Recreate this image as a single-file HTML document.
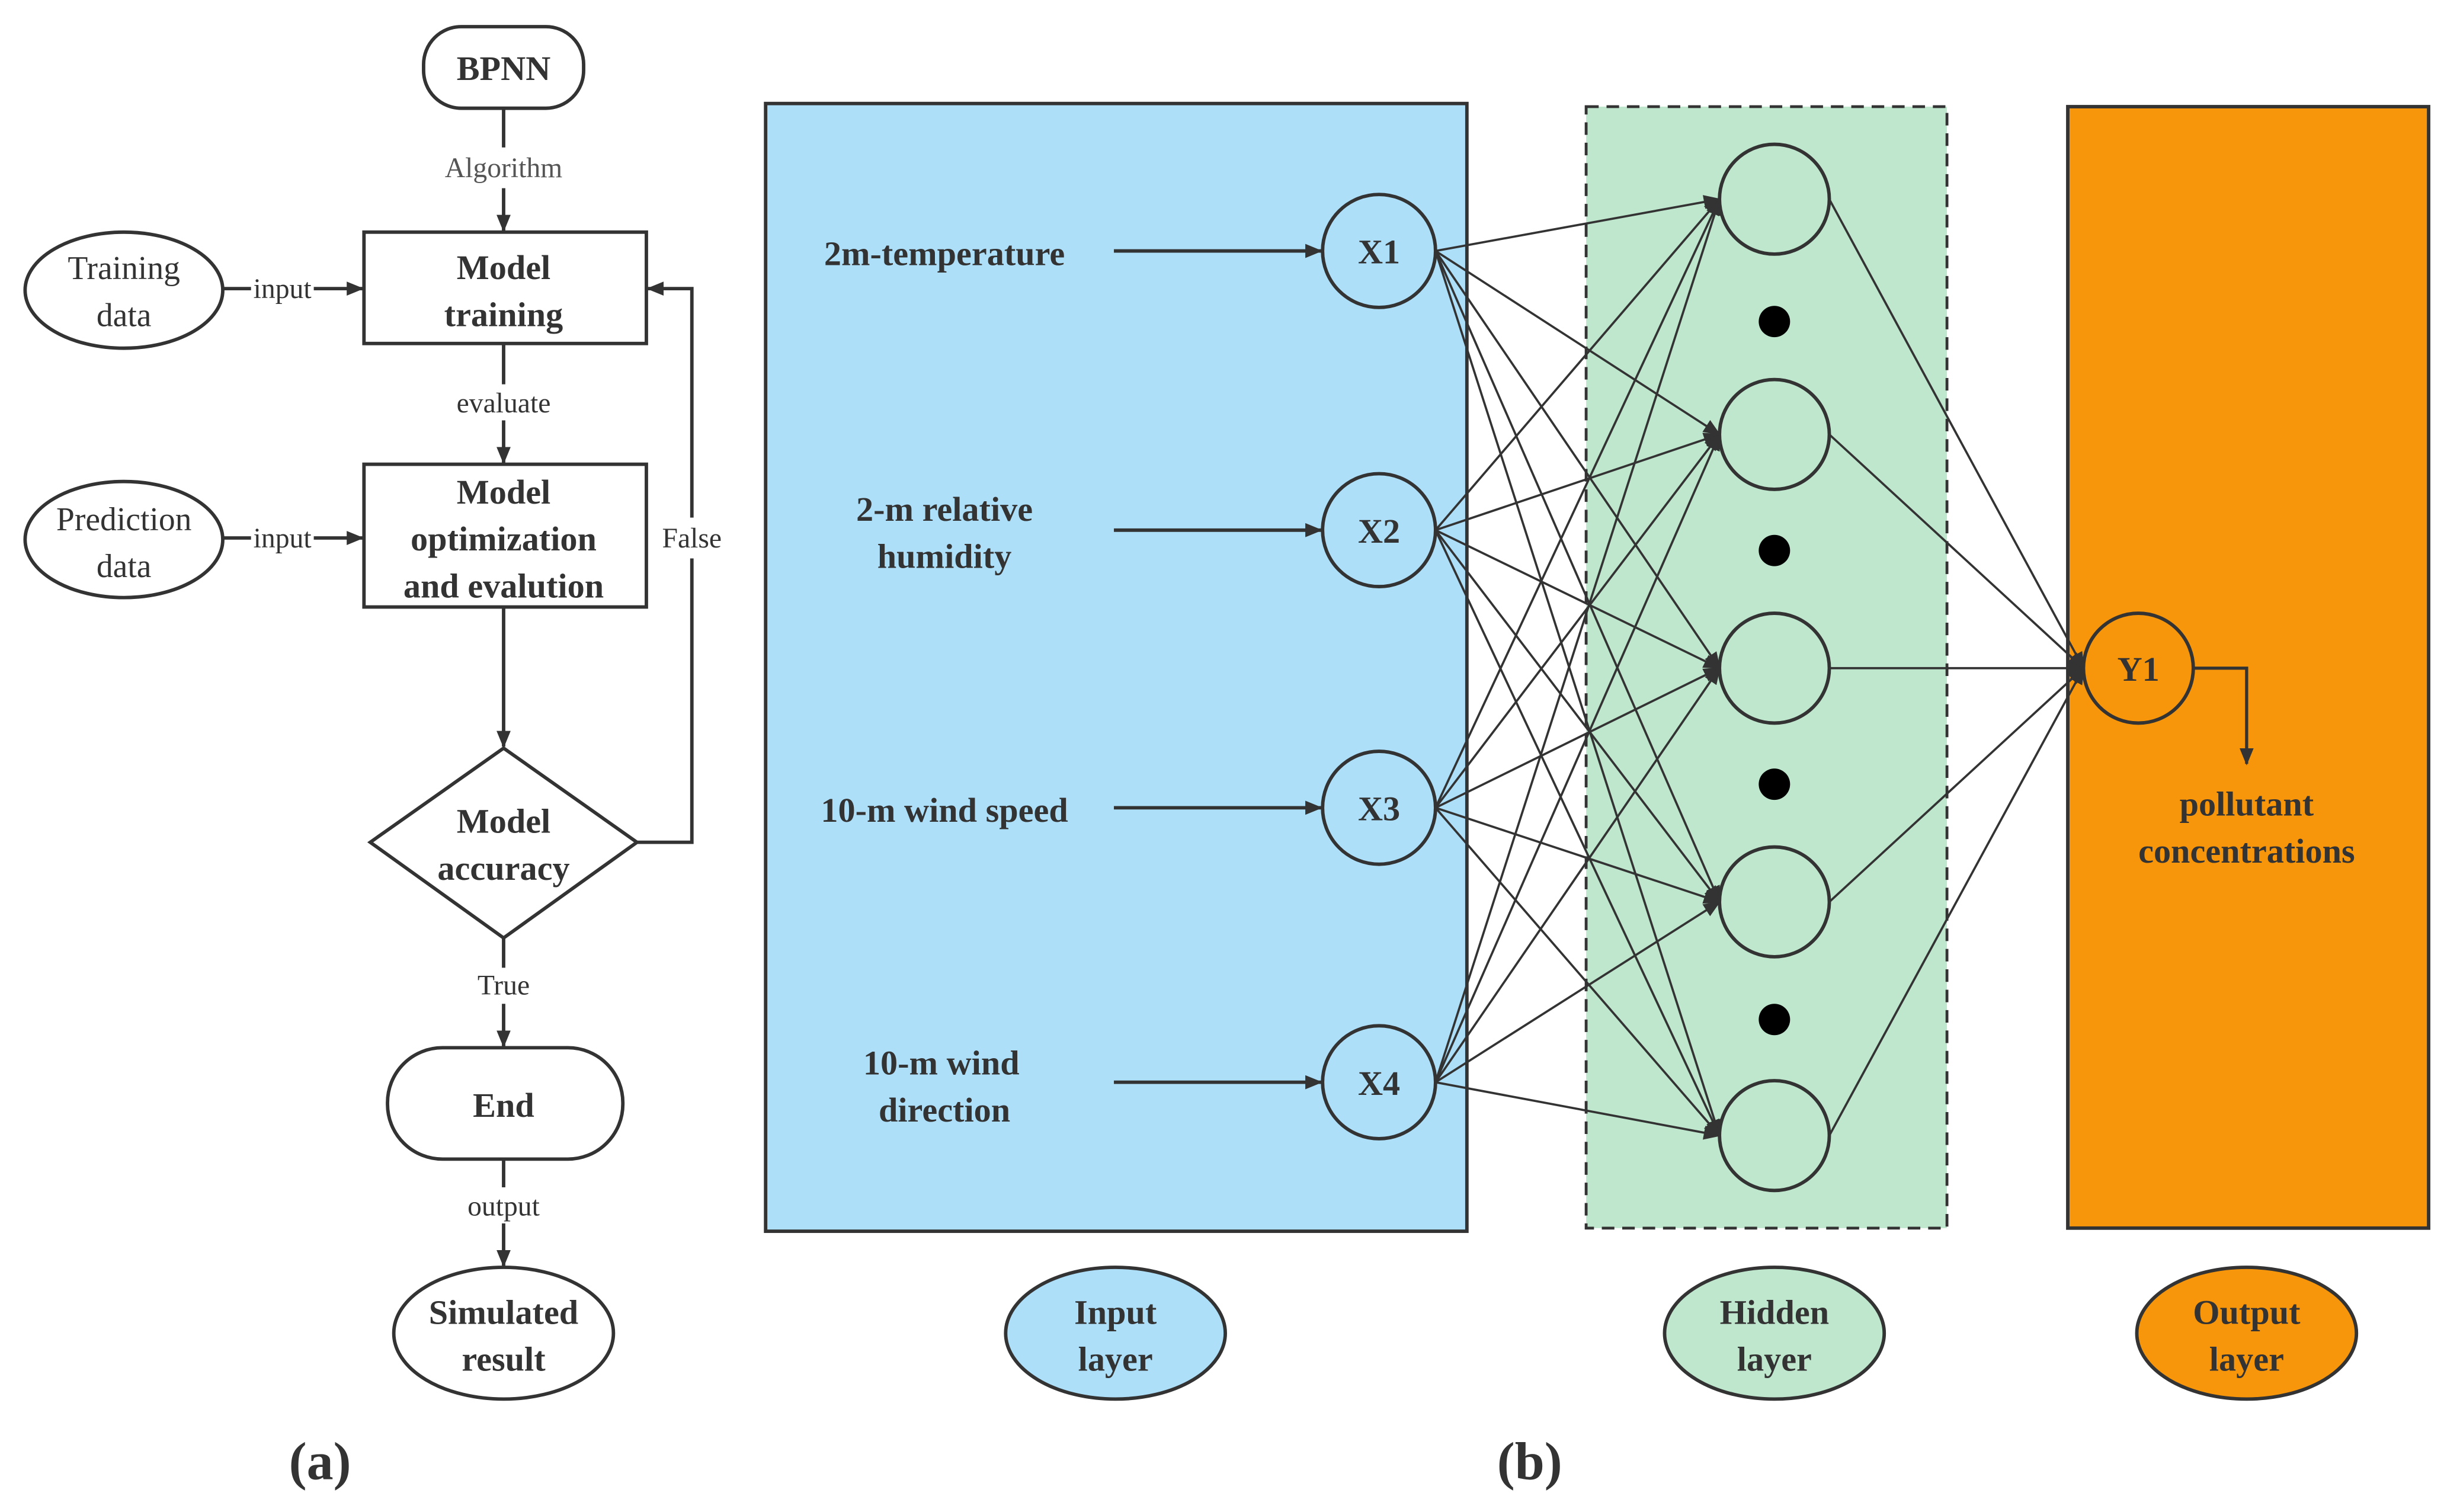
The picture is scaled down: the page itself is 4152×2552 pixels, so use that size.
<!DOCTYPE html>
<html><head><meta charset="utf-8"><style>
html,body{margin:0;padding:0;background:#fff}
svg{display:block}
text{font-family:"Liberation Serif",serif;fill:#333}
.b{font-weight:bold;font-size:22px}
.n{font-size:18px}
</style></head><body>
<svg width="4152" height="2552" viewBox="0 0 1568 964" preserveAspectRatio="none" xmlns="http://www.w3.org/2000/svg">
<defs>
<marker id="a" markerWidth="11" markerHeight="9" refX="10" refY="4.5" orient="auto" markerUnits="userSpaceOnUse"><path d="M0,0 L11,4.5 L0,9 Z" fill="#333"/></marker>
</defs>
<g stroke="#333" stroke-width="2.2" fill="none">
<rect x="270" y="17" width="102" height="52" rx="24" fill="#fff"/>
<line x1="321" y1="69" x2="321" y2="94"/>
<line x1="321" y1="120" x2="321" y2="147" marker-end="url(#a)"/>
<rect x="232" y="148" width="180" height="71" fill="#fff"/>
<ellipse cx="79" cy="185" rx="63" ry="37" fill="#fff"/>
<line x1="142" y1="184" x2="160" y2="184"/>
<line x1="200" y1="184" x2="231" y2="184" marker-end="url(#a)"/>
<line x1="321" y1="219" x2="321" y2="245"/>
<line x1="321" y1="268" x2="321" y2="295" marker-end="url(#a)"/>
<rect x="232" y="296" width="180" height="91" fill="#fff"/>
<ellipse cx="79" cy="344" rx="63" ry="37" fill="#fff"/>
<line x1="142" y1="343" x2="160" y2="343"/>
<line x1="200" y1="343" x2="231" y2="343" marker-end="url(#a)"/>
<line x1="321" y1="387" x2="321" y2="476" marker-end="url(#a)"/>
<polygon points="321,477 406,537 321,598 236,537" fill="#fff"/>
<polyline points="406,537 441,537 441,356"/>
<polyline points="441,330 441,184 413,184" marker-end="url(#a)"/>
<line x1="321" y1="598" x2="321" y2="617"/>
<line x1="321" y1="640" x2="321" y2="667" marker-end="url(#a)"/>
<rect x="247" y="668" width="150" height="71" rx="35" fill="#fff"/>
<line x1="321" y1="739" x2="321" y2="757"/>
<line x1="321" y1="780" x2="321" y2="807" marker-end="url(#a)"/>
<ellipse cx="321" cy="850" rx="70" ry="42" fill="#fff"/>
<rect x="488" y="66" width="447" height="719" fill="#addff9"/>
<rect x="1011" y="68" width="230" height="715" fill="#bfe7ce" stroke-dasharray="8,5" stroke-width="1.8"/>
<rect x="1318" y="68" width="230" height="715" fill="#f7960a"/>
<line x1="710" y1="160" x2="842" y2="160" marker-end="url(#a)"/>
<line x1="710" y1="338" x2="842" y2="338" marker-end="url(#a)"/>
<line x1="710" y1="515" x2="842" y2="515" marker-end="url(#a)"/>
<line x1="710" y1="690" x2="842" y2="690" marker-end="url(#a)"/>
</g>
<g stroke="#333" stroke-width="1.4" fill="none">
<g marker-end="url(#a)">
<line x1="915" y1="160" x2="1096" y2="127"/><line x1="915" y1="160" x2="1096" y2="277"/><line x1="915" y1="160" x2="1096" y2="426"/><line x1="915" y1="160" x2="1096" y2="575"/><line x1="915" y1="160" x2="1096" y2="724"/>
<line x1="915" y1="338" x2="1096" y2="127"/><line x1="915" y1="338" x2="1096" y2="277"/><line x1="915" y1="338" x2="1096" y2="426"/><line x1="915" y1="338" x2="1096" y2="575"/><line x1="915" y1="338" x2="1096" y2="724"/>
<line x1="915" y1="515" x2="1096" y2="127"/><line x1="915" y1="515" x2="1096" y2="277"/><line x1="915" y1="515" x2="1096" y2="426"/><line x1="915" y1="515" x2="1096" y2="575"/><line x1="915" y1="515" x2="1096" y2="724"/>
<line x1="915" y1="690" x2="1096" y2="127"/><line x1="915" y1="690" x2="1096" y2="277"/><line x1="915" y1="690" x2="1096" y2="426"/><line x1="915" y1="690" x2="1096" y2="575"/><line x1="915" y1="690" x2="1096" y2="724"/>
<line x1="1166" y1="127" x2="1328" y2="426"/><line x1="1166" y1="277" x2="1328" y2="426"/><line x1="1166" y1="426" x2="1328" y2="426"/><line x1="1166" y1="575" x2="1328" y2="426"/><line x1="1166" y1="724" x2="1328" y2="426"/>
</g>
<polyline points="1398,426 1432,426 1432,487" stroke-width="2" marker-end="url(#a)"/>
</g>
<g stroke="#333" stroke-width="2.2">
<circle cx="879" cy="160" r="36" fill="#addff9"/><circle cx="879" cy="338" r="36" fill="#addff9"/><circle cx="879" cy="515" r="36" fill="#addff9"/><circle cx="879" cy="690" r="36" fill="#addff9"/>
<circle cx="1131" cy="127" r="35" fill="#bfe7ce"/><circle cx="1131" cy="277" r="35" fill="#bfe7ce"/><circle cx="1131" cy="426" r="35" fill="#bfe7ce"/><circle cx="1131" cy="575" r="35" fill="#bfe7ce"/><circle cx="1131" cy="724" r="35" fill="#bfe7ce"/>
<circle cx="1363" cy="426" r="35" fill="#f7960a"/>
<ellipse cx="711" cy="850" rx="70" ry="42" fill="#addff9"/>
<ellipse cx="1131" cy="850" rx="70" ry="42" fill="#bfe7ce"/>
<ellipse cx="1432" cy="850" rx="70" ry="42" fill="#f7960a"/>
</g>
<g fill="#000"><circle cx="1131" cy="205" r="10"/><circle cx="1131" cy="351" r="10"/><circle cx="1131" cy="500" r="10"/><circle cx="1131" cy="650" r="10"/></g>
<g text-anchor="middle">
<text class="b" x="321" y="51">BPNN</text>
<text class="n" x="321" y="113" style="fill:#555">Algorithm</text>
<text class="b" x="321" y="178">Model</text><text class="b" x="321" y="208">training</text>
<text class="n" x="79" y="178" style="font-size:21px">Training</text><text class="n" x="79" y="208" style="font-size:21px">data</text>
<text class="n" x="180" y="190">input</text>
<text class="n" x="321" y="263">evaluate</text>
<text class="b" x="321" y="321">Model</text><text class="b" x="321" y="351">optimization</text><text class="b" x="321" y="381">and evalution</text>
<text class="n" x="79" y="338" style="font-size:21px">Prediction</text><text class="n" x="79" y="368" style="font-size:21px">data</text>
<text class="n" x="180" y="349">input</text>
<text class="n" x="441" y="349">False</text>
<text class="b" x="321" y="531">Model</text><text class="b" x="321" y="561">accuracy</text>
<text class="n" x="321" y="634">True</text>
<text class="b" x="321" y="712">End</text>
<text class="n" x="321" y="775">output</text>
<text class="b" x="321" y="844">Simulated</text><text class="b" x="321" y="874">result</text>
<text class="b" x="204" y="943" style="font-size:34px">(a)</text>
<text class="b" x="975" y="943" style="font-size:34px">(b)</text>
<text class="b" x="602" y="169">2m-temperature</text>
<text class="b" x="602" y="332">2-m relative</text><text class="b" x="602" y="362">humidity</text>
<text class="b" x="602" y="524">10-m wind speed</text>
<text class="b" x="600" y="685">10-m wind</text><text class="b" x="602" y="715">direction</text>
<text class="b" x="879" y="168">X1</text><text class="b" x="879" y="346">X2</text><text class="b" x="879" y="523">X3</text><text class="b" x="879" y="698">X4</text>
<text class="b" x="1363" y="434">Y1</text>
<text class="b" x="1432" y="520">pollutant</text><text class="b" x="1432" y="550">concentrations</text>
<text class="b" x="711" y="844">Input</text><text class="b" x="711" y="874">layer</text>
<text class="b" x="1131" y="844">Hidden</text><text class="b" x="1131" y="874">layer</text>
<text class="b" x="1432" y="844">Output</text><text class="b" x="1432" y="874">layer</text>
</g>
</svg>
</body></html>
